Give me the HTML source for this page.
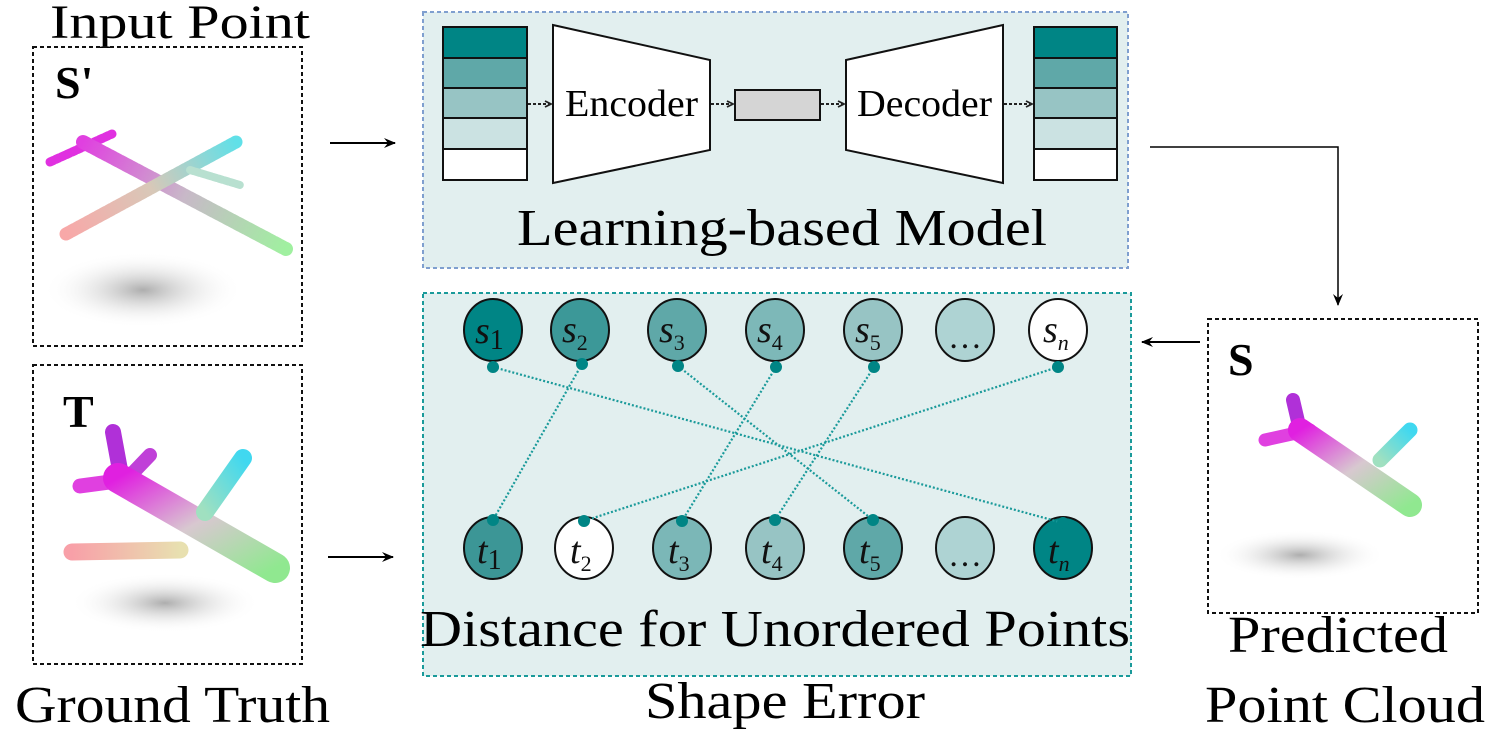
<!DOCTYPE html>
<html><head><meta charset="utf-8"><style>
html,body{margin:0;padding:0;background:#fff;}
svg{display:block;font-family:"Liberation Serif",serif;}
</style></head><body>
<svg width="1489" height="742" viewBox="0 0 1489 742" xmlns="http://www.w3.org/2000/svg">
<defs>
<marker id="ah" markerWidth="12" markerHeight="10" refX="11" refY="5" orient="auto" markerUnits="userSpaceOnUse"><path d="M0,0 L12,5 L0,10 L4,5 z" fill="#000"/></marker>
<marker id="sa" markerWidth="8" markerHeight="8" refX="7" refY="4" orient="auto" markerUnits="userSpaceOnUse"><path d="M1,1 L7,4 L1,7" fill="none" stroke="#222" stroke-width="1.8"/></marker>
<radialGradient id="sh"><stop offset="0" stop-color="#777" stop-opacity="0.6"/><stop offset="1" stop-color="#fff" stop-opacity="0"/></radialGradient>
<linearGradient id="body" x1="0" y1="0" x2="1" y2="1"><stop offset="0" stop-color="#e020e0"/><stop offset="0.5" stop-color="#d8c8d0"/><stop offset="1" stop-color="#90e890"/></linearGradient>
<linearGradient id="bodyS" gradientUnits="userSpaceOnUse" x1="83" y1="142" x2="286" y2="249"><stop offset="0" stop-color="#e040e0"/><stop offset="0.5" stop-color="#c8b8c8"/><stop offset="1" stop-color="#a0f0a0"/></linearGradient>
<linearGradient id="wingS" gradientUnits="userSpaceOnUse" x1="66" y1="234" x2="236" y2="142"><stop offset="0" stop-color="#f8a8a8"/><stop offset="0.5" stop-color="#d8c8b8"/><stop offset="1" stop-color="#60e0e8"/></linearGradient>
<linearGradient id="wing1" x1="0" y1="0" x2="1" y2="0"><stop offset="0" stop-color="#f8a0a8"/><stop offset="1" stop-color="#e8e0b0"/></linearGradient>
<linearGradient id="wing2" x1="0" y1="1" x2="1" y2="0"><stop offset="0" stop-color="#a0e0c0"/><stop offset="1" stop-color="#40d8f0"/></linearGradient>
</defs>

<text x="50" y="38" font-size="48" textLength="260" lengthAdjust="spacingAndGlyphs">Input Point</text>
<text x="15" y="722" font-size="52" textLength="315" lengthAdjust="spacingAndGlyphs">Ground Truth</text>
<rect x="33" y="47" width="269" height="299" fill="none" stroke="#111" stroke-width="2" stroke-dasharray="4,3"/>
<rect x="33" y="365" width="269" height="299" fill="none" stroke="#111" stroke-width="2" stroke-dasharray="4,3"/>
<text x="55" y="98" font-size="46" font-weight="bold">S'</text>
<text x="63" y="427" font-size="46" font-weight="bold">T</text>

<!-- S' plane (sparse) -->
<ellipse cx="143" cy="290" rx="100" ry="38" fill="url(#sh)"/>
<g stroke-linecap="round" fill="none" stroke-dasharray="4,2">
<path d="M50,162 L112,134" stroke="#e030e0" stroke-width="9"/>
<path d="M83,142 L286,249" stroke="url(#bodyS)" stroke-width="14"/>
<path d="M66,234 L236,142" stroke="url(#wingS)" stroke-width="13"/>
<path d="M190,170 L240,185" stroke="#b8e0d0" stroke-width="8"/>
</g>
<!-- T plane -->
<ellipse cx="165" cy="603" rx="95" ry="30" fill="url(#sh)"/>
<g stroke-linecap="round" fill="none">
<path d="M113,432 L120,470" stroke="#b030d8" stroke-width="16"/>
<path d="M150,455 L128,478" stroke="#c040d8" stroke-width="14"/>
<path d="M80,486 L125,480" stroke="#e040e0" stroke-width="15"/>
<path d="M118,478 L275,568" stroke="url(#body)" stroke-width="30"/>
<path d="M72,552 L180,550" stroke="url(#wing1)" stroke-width="17"/>
<path d="M205,512 L243,458" stroke="url(#wing2)" stroke-width="18"/>
</g>
<!-- Predicted plane -->
<ellipse cx="1300" cy="555" rx="85" ry="25" fill="url(#sh)"/>
<g stroke-linecap="round" fill="none">
<path d="M1293,400 L1300,430" stroke="#b030d8" stroke-width="14"/>
<path d="M1265,440 L1310,430" stroke="#e040e0" stroke-width="13"/>
<path d="M1300,430 L1410,505" stroke="url(#body)" stroke-width="24"/>
<path d="M1265,495 L1350,495" stroke="url(#wing1)" stroke-width="13"/>
<path d="M1380,460 L1410,430" stroke="url(#wing2)" stroke-width="15"/>
</g>

<line x1="330" y1="143" x2="395" y2="143" stroke="#000" stroke-width="2" marker-end="url(#ah)"/>
<line x1="328" y1="557" x2="393" y2="557" stroke="#000" stroke-width="2" marker-end="url(#ah)"/>

<rect x="423" y="12" width="705" height="256" fill="#e2efef" stroke="#7f9fcf" stroke-width="2" stroke-dasharray="4,3"/>
<g stroke="#111" stroke-width="2">
<rect x="443" y="27" width="84" height="31" fill="#008585"/>
<rect x="443" y="58" width="84" height="30" fill="#5fa8a8"/>
<rect x="443" y="88" width="84" height="30" fill="#97c4c4"/>
<rect x="443" y="118" width="84" height="31" fill="#cbe2e2"/>
<rect x="443" y="149" width="84" height="31" fill="#fff"/>
<rect x="1034" y="27" width="83" height="31" fill="#008585"/>
<rect x="1034" y="58" width="83" height="30" fill="#5fa8a8"/>
<rect x="1034" y="88" width="83" height="30" fill="#97c4c4"/>
<rect x="1034" y="118" width="83" height="31" fill="#cbe2e2"/>
<rect x="1034" y="149" width="83" height="31" fill="#fff"/>
<polygon points="553,25 710,60 710,150 553,183" fill="#fff"/>
<polygon points="846,60 1003,25 1003,183 846,150" fill="#fff"/>
<rect x="735" y="90" width="85" height="30" fill="#d5d5d5"/>
</g>
<g stroke="#222" stroke-width="2" stroke-dasharray="3,2" marker-end="url(#sa)">
<line x1="528" y1="104" x2="551" y2="104"/>
<line x1="711" y1="104" x2="733" y2="104"/>
<line x1="821" y1="104" x2="844" y2="104"/>
<line x1="1004" y1="104" x2="1032" y2="104"/>
</g>
<text x="565" y="116" font-size="38" textLength="133" lengthAdjust="spacingAndGlyphs">Encoder</text>
<text x="857" y="116" font-size="38" textLength="135" lengthAdjust="spacingAndGlyphs">Decoder</text>
<text x="517" y="245" font-size="52" textLength="530" lengthAdjust="spacingAndGlyphs">Learning-based Model</text>

<polyline points="1150,147 1338,147 1338,305" fill="none" stroke="#000" stroke-width="1.5" marker-end="url(#ah)"/>
<line x1="1200" y1="342" x2="1142" y2="342" stroke="#000" stroke-width="2" marker-end="url(#ah)"/>

<rect x="423" y="293" width="708" height="383" fill="#e2efef" stroke="#1a9a9a" stroke-width="2" stroke-dasharray="4,3"/>
<g stroke="#111" stroke-width="2">
<ellipse cx="493" cy="330" rx="29" ry="31" fill="#008585"/>
<ellipse cx="580" cy="330" rx="29" ry="31" fill="#3c9898"/>
<ellipse cx="677" cy="330" rx="29" ry="31" fill="#5fa8a8"/>
<ellipse cx="775" cy="330" rx="29" ry="31" fill="#7db8b8"/>
<ellipse cx="873" cy="330" rx="29" ry="31" fill="#97c4c4"/>
<ellipse cx="965" cy="330" rx="29" ry="31" fill="#aed3d3"/>
<ellipse cx="1058" cy="330" rx="29" ry="31" fill="#fff"/>
<ellipse cx="493" cy="548" rx="29" ry="31" fill="#3c9696"/>
<ellipse cx="584" cy="548" rx="29" ry="31" fill="#fff"/>
<ellipse cx="682" cy="548" rx="29" ry="31" fill="#7bb7b7"/>
<ellipse cx="775" cy="548" rx="29" ry="31" fill="#97c4c4"/>
<ellipse cx="873" cy="548" rx="29" ry="31" fill="#5fa8a8"/>
<ellipse cx="965" cy="548" rx="29" ry="31" fill="#aed3d3"/>
<ellipse cx="1063" cy="548" rx="29" ry="31" fill="#008585"/>
</g>
<g font-style="italic" font-size="38" fill="#111">
<text x="475" y="343">s<tspan font-style="normal" font-size="28" dy="6">1</tspan></text>
<text x="562" y="342">s<tspan font-style="normal" font-size="22" dy="8">2</tspan></text>
<text x="659" y="342">s<tspan font-style="normal" font-size="22" dy="8">3</tspan></text>
<text x="757" y="342">s<tspan font-style="normal" font-size="22" dy="8">4</tspan></text>
<text x="855" y="342">s<tspan font-style="normal" font-size="22" dy="8">5</tspan></text>
<text x="965" y="348" font-style="normal" font-size="34" text-anchor="middle">…</text>
<text x="1043" y="342">s<tspan font-size="22" dy="8">n</tspan></text>
<text x="477" y="563">t<tspan font-style="normal" font-size="28" dy="6">1</tspan></text>
<text x="570" y="563">t<tspan font-style="normal" font-size="22" dy="8">2</tspan></text>
<text x="668" y="563">t<tspan font-style="normal" font-size="22" dy="8">3</tspan></text>
<text x="761" y="563">t<tspan font-style="normal" font-size="22" dy="8">4</tspan></text>
<text x="859" y="563">t<tspan font-style="normal" font-size="22" dy="8">5</tspan></text>
<text x="965" y="566" font-style="normal" font-size="34" text-anchor="middle">…</text>
<text x="1048" y="563">t<tspan font-size="22" dy="8">n</tspan></text>
</g>
<g stroke="#1a9a9a" stroke-width="2.2" stroke-dasharray="2,2">
<line x1="493" y1="367" x2="1063" y2="523"/>
<line x1="582" y1="364" x2="493" y2="520"/>
<line x1="678" y1="366" x2="873" y2="520"/>
<line x1="776" y1="367" x2="682" y2="521"/>
<line x1="874" y1="367" x2="775" y2="520"/>
<line x1="1058" y1="367" x2="584" y2="521"/>
</g>
<g fill="#008585">
<circle cx="493" cy="367" r="6"/><circle cx="582" cy="364" r="6"/><circle cx="678" cy="366" r="6"/>
<circle cx="776" cy="367" r="6"/><circle cx="874" cy="367" r="6"/><circle cx="1058" cy="367" r="6"/>
<circle cx="493" cy="520" r="6"/><circle cx="584" cy="521" r="6"/><circle cx="682" cy="521" r="6"/>
<circle cx="775" cy="520" r="6"/><circle cx="873" cy="520" r="6"/><circle cx="1063" cy="523" r="6"/>
</g>
<text x="420" y="646" font-size="52" textLength="710" lengthAdjust="spacingAndGlyphs">Distance for Unordered Points</text>
<text x="645" y="718" font-size="52" textLength="280" lengthAdjust="spacingAndGlyphs">Shape Error</text>

<rect x="1208" y="319" width="270" height="294" fill="none" stroke="#111" stroke-width="2" stroke-dasharray="4,3"/>
<text x="1228" y="375" font-size="46" font-weight="bold">S</text>
<text x="1228" y="652" font-size="52" textLength="220" lengthAdjust="spacingAndGlyphs">Predicted</text>
<text x="1205" y="722" font-size="52" textLength="280" lengthAdjust="spacingAndGlyphs">Point Cloud</text>
</svg>
</body></html>
